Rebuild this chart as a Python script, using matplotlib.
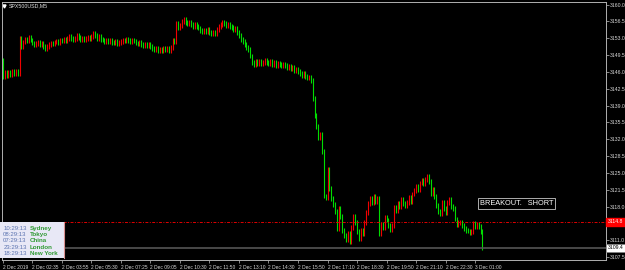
import matplotlib.pyplot as plt
import matplotlib.transforms as mtransforms

plt.rcParams['font.family'] = ['Liberation Sans', 'DejaVu Sans']

symbol = "SPX500USD,M5"
first_open = 3148.3
# M5 closes, one row per time label (16 bars)
closes = [
    3145.0, 3145.8, 3145.3, 3145.9, 3145.5, 3146.0, 3145.6, 3146.1, 3145.7, 3153.0, 3151.2, 3152.2, 3152.8, 3152.4, 3153.1, 3152.6,
    3152.0, 3151.6, 3151.9, 3152.2, 3151.7, 3151.9, 3151.2, 3150.9, 3151.3, 3151.6, 3152.0, 3151.8, 3152.2, 3152.4, 3152.1, 3152.6,
    3152.4, 3152.8, 3152.5, 3152.9, 3153.3, 3153.0, 3152.6, 3152.9, 3153.6, 3153.2, 3152.8, 3153.0, 3152.7, 3152.9, 3153.1, 3152.9,
    3153.3, 3153.9, 3153.5, 3153.0, 3153.3, 3152.8, 3152.6, 3152.2, 3152.5, 3152.3, 3152.6, 3152.1, 3152.0, 3152.3, 3151.9, 3152.1,
    3152.3, 3152.6, 3152.4, 3152.8, 3152.5, 3152.2, 3152.6, 3152.4, 3152.0, 3151.8, 3152.1, 3151.7, 3151.5, 3151.8, 3151.4, 3151.6,
    3151.3, 3150.9, 3150.6, 3150.8, 3150.4, 3150.7, 3150.5, 3150.9, 3150.6, 3150.8, 3150.5, 3151.0, 3152.6, 3152.2, 3156.0, 3155.3,
    3155.7, 3156.4, 3157.0, 3156.3, 3156.0, 3156.2, 3155.8, 3155.5, 3155.8, 3155.4, 3155.1, 3154.6, 3154.3, 3154.7, 3154.4, 3154.9,
    3154.2, 3153.9, 3154.3, 3154.0, 3154.8, 3155.5, 3155.9, 3156.3, 3156.0, 3155.7, 3155.8, 3155.4, 3155.2, 3154.7, 3155.0, 3154.1,
    3153.6, 3152.8, 3152.3, 3151.6, 3151.0, 3150.6, 3149.3, 3148.0, 3147.6, 3148.1, 3147.8, 3148.2, 3147.7, 3148.0, 3148.4, 3148.0,
    3147.7, 3148.1, 3147.6, 3147.9, 3147.4, 3147.8, 3147.5, 3147.2, 3147.6, 3147.3, 3146.8, 3147.1, 3146.6, 3146.9, 3146.3, 3146.6,
    3146.0, 3145.6, 3145.3, 3145.6, 3145.1, 3144.7, 3144.9, 3144.2, 3140.4, 3137.0, 3134.6, 3132.4, 3133.0, 3129.4, 3120.2, 3119.8,
    3125.8, 3121.8, 3119.6, 3118.4, 3117.0, 3113.4, 3117.6, 3116.0, 3113.0, 3112.0, 3111.2, 3112.4, 3110.8, 3113.6, 3116.0, 3114.6,
    3112.8, 3111.4, 3113.0, 3112.4, 3114.6, 3116.8, 3118.6, 3119.6, 3118.8, 3120.2, 3119.0, 3119.6, 3112.4, 3114.2, 3113.6, 3115.8,
    3115.2, 3114.0, 3113.2, 3114.0, 3117.8, 3117.2, 3118.6, 3118.0, 3119.4, 3118.6, 3118.2, 3118.8, 3119.8, 3119.0, 3120.6, 3121.4,
    3122.2, 3121.6, 3122.9, 3123.4, 3122.8, 3123.6, 3124.2, 3123.2, 3120.6, 3121.6, 3120.0, 3118.2, 3117.0, 3116.6, 3118.8, 3117.6,
    3116.8, 3118.8, 3119.4, 3118.0, 3117.6, 3115.4, 3114.2, 3114.6, 3114.8, 3114.0, 3113.4, 3113.0, 3112.9, 3112.6, 3112.8, 3114.4,
    3113.8, 3114.2, 3113.9, 3112.8, 3109.4,
]
time_labels = ["2 Dec 2019", "2 Dec 02:35", "2 Dec 03:55", "2 Dec 05:30", "2 Dec 07:25", "2 Dec 09:05",
               "2 Dec 10:30", "2 Dec 11:50", "2 Dec 13:10", "2 Dec 14:30", "2 Dec 15:50", "2 Dec 17:10",
               "2 Dec 18:30", "2 Dec 19:50", "2 Dec 21:10", "2 Dec 22:30", "3 Dec 01:00"]
bars_per_label = 16
price_ticks = [3160.0, 3156.5, 3153.0, 3149.5, 3146.0, 3142.5, 3139.0, 3135.5, 3132.0,
               3128.5, 3125.0, 3121.5, 3118.0, 3111.0, 3107.5]
ask_level = 3114.8
bid_level = closes[-1]
clock_times = ["10:29:13", "08:29:13", "07:29:13", "23:29:13", "18:29:13"]
clock_cities = ["Sydney", "Tokyo", "China", "London", "New York"]
signal_text = "BREAKOUT.   SHORT"

W, H = 625, 270
fig = plt.figure(figsize=(W / 100, H / 100), dpi=100, facecolor='black')
ax = fig.add_axes([2 / W, 10 / H, 604 / W, 258 / H], facecolor='black')

opens = [first_open] + closes[:-1]
wick = 0.5
for i, (o, c) in enumerate(zip(opens, closes)):
    col = '#f00000' if c > o else '#00dc00'
    ax.vlines(i, min(o, c) - wick, max(o, c) + wick, color=col, lw=0.8)

ax.set_xlim(-0.5, 327.0)
ax.set_ylim(3106.88, 3160.52)

# horizontal levels
ax.axhline(ask_level, color='#e00000', lw=0.7, ls=(0, (3, 1.5, 1, 1.5)))
ax.axhline(bid_level, color='#555555', lw=1.2)

for s in ax.spines.values():
    s.set_color('#b0b0b0')
    s.set_linewidth(0.7)

ax.yaxis.tick_right()
ax.set_yticks(price_ticks, [f"{p:.1f}" for p in price_ticks])
ax.tick_params(axis='y', length=2, width=0.5, color='#c0c0c0', labelcolor='#d8d8d8',
               labelsize=3.7, pad=1)
ax.set_xticks(range(0, bars_per_label * len(time_labels), bars_per_label), time_labels)
ax.tick_params(axis='x', length=2, width=0.5, color='#c0c0c0', labelcolor='#d8d8d8',
               labelsize=3.5, pad=1.5)
for lab in ax.get_xticklabels():
    lab.set_horizontalalignment('left')

blend = mtransforms.blended_transform_factory(ax.transAxes, ax.transData)
ax.text(1.003, ask_level, f"{ask_level:.1f}", transform=blend, color='white', fontsize=3.7,
        va='center', ha='left', clip_on=False,
        bbox=dict(boxstyle='square,pad=0.3', fc='#ff0000', ec='#ff0000'))
ax.text(1.003, bid_level, f"{bid_level:.1f}", transform=blend, color='black', fontsize=3.7,
        va='center', ha='left', clip_on=False,
        bbox=dict(boxstyle='square,pad=0.3', fc='white', ec='#808080', lw=0.5))

# symbol caption
ax.plot([0.004], [0.984], marker='v', ms=2.2, color='white', transform=ax.transAxes, clip_on=False)
ax.text(0.011, 0.985, symbol, transform=ax.transAxes, color='#e0e0e0', fontsize=3.8,
        va='center', ha='left')

# signal label
ax.text(0.791, 0.218, signal_text, transform=ax.transAxes, color='white', fontsize=5.3,
        va='center', ha='left',
        bbox=dict(boxstyle='square,pad=0.25', fc='black', ec='#c8c8c8', lw=0.6))

# clock panel
pan = fig.add_axes([0, 12 / H, 64 / W, 36 / H], facecolor='#e8e8f6')
pan.set_xticks([])
pan.set_yticks([])
for k, s in pan.spines.items():
    s.set_visible(k == 'right')
pan.spines['right'].set_color('#d89090')
for j, (t, c) in enumerate(zip(clock_times, clock_cities)):
    y = 0.83 - j * 0.175
    pan.text(0.05, y, t, color='#5b73b0', fontsize=4.3, va='center', ha='left', transform=pan.transAxes)
    pan.text(0.47, y, c, color='#2f9a33', fontsize=4.5, fontweight='bold', va='center', ha='left',
             transform=pan.transAxes)

fig.savefig('out.png', dpi=100, facecolor='black')
